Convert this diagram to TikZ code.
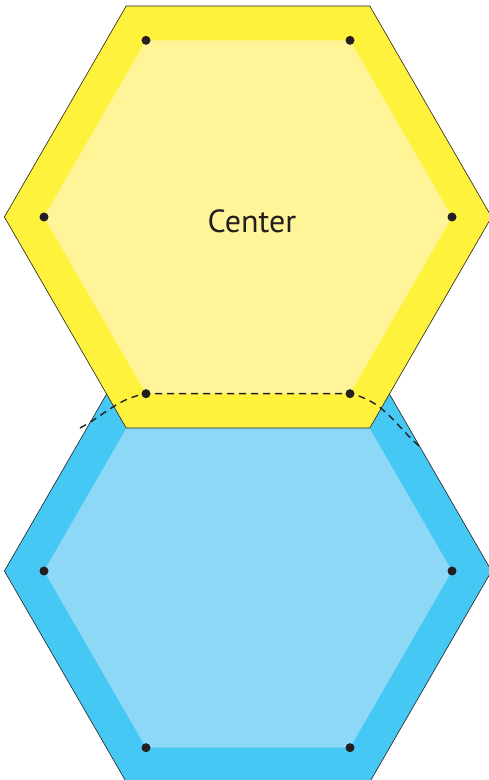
\documentclass[tikz,border=0pt]{standalone}
\usepackage{fontspec}
\newfontfamily\labelfont{PT Sans}
\usetikzlibrary{calc}

\definecolor{yelout}{HTML}{FFF23C}
\definecolor{yelin}{HTML}{FFF598}
\definecolor{bluout}{HTML}{45C8F4}
\definecolor{bluin}{HTML}{8ED8F7}
\definecolor{ink}{HTML}{231F20}

\begin{document}
\begin{tikzpicture}[x=1pt, y=1pt,
  rim/.style={draw=ink, line width=0.6pt},
  dot/.style={circle, fill=ink, minimum size=9pt, inner sep=0pt},
  guide/.style={draw=ink, line width=1.4pt, dash pattern=on 7pt off 5pt}]

\useasboundingbox (0,0) rectangle (489,780);

\coordinate (bc) at (248,209);
\coordinate (yc) at (248,563);

% ---- lower hexagon ---------------------------------------------------------------
\path[rim, fill=bluout] (bc) +(0:243.6) -- +(60:243.6) -- +(120:243.6)
  -- +(180:243.6) -- +(240:243.6) -- +(300:243.6) -- cycle;
\fill[bluin] (bc) +(0:204) -- +(60:204) -- +(120:204)
  -- +(180:204) -- +(240:204) -- +(300:204) -- cycle;
\node[dot] (b1) at ($(bc)+(0:204)$) {};
\node[dot] (b2) at ($(bc)+(180:204)$) {};
\node[dot] (b3) at ($(bc)+(240:204)$) {};
\node[dot] (b4) at ($(bc)+(300:204)$) {};

% ---- upper hexagon ---------------------------------------------------------------
\path[rim, fill=yelout] (yc) +(0:243.6) -- +(60:243.6) -- +(120:243.6)
  -- +(180:243.6) -- +(240:243.6) -- +(300:243.6) -- cycle;
\fill[yelin] (yc) +(0:204) -- +(60:204) -- +(120:204)
  -- +(180:204) -- +(240:204) -- +(300:204) -- cycle;
\node[dot] (y1) at ($(yc)+(60:204)$) {};
\node[dot] (y2) at ($(yc)+(120:204)$) {};
\node[dot] (y3) at ($(yc)+(180:204)$) {};
\node[dot] (y4) at ($(yc)+(0:204)$) {};
\node[dot] (y5) at ($(yc)+(240:204)$) {};
\node[dot] (y6) at ($(yc)+(300:204)$) {};

\node[text=ink, font=\labelfont\fontsize{32}{38}\selectfont] (ctr) at (252,559) {Center};

% ---- dashed overlap line ---------------------------------------------------------
\coordinate (gl) at (80,352);
\coordinate (gr) at (419,334);
\draw[guide] (gl) to[out=28, in=190] (y5.center) -- (y6.center)
  to[out=-12, in=138] (gr);

\end{tikzpicture}
\end{document}
